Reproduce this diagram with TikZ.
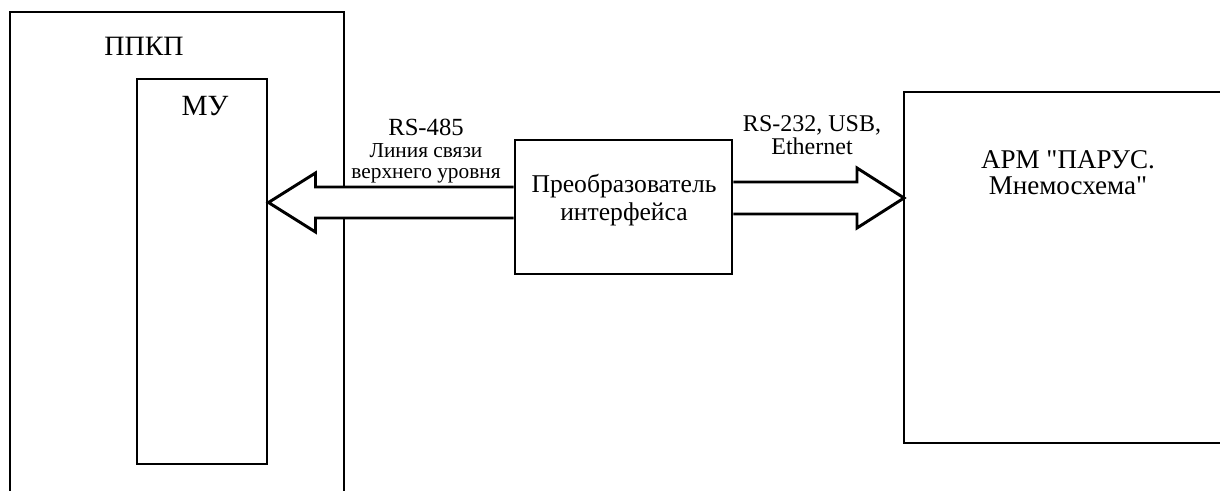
\documentclass[tikz,border=0pt]{standalone}
\usepackage{fontspec}
\setmainfont{Liberation Serif}
\usetikzlibrary{positioning,calc}
\tikzset{
  blok/.style={draw,line width=2.2pt,fill=white,inner sep=0pt},
  ramka/.style={line width=2.2pt},
  sirka/.style={line width=2.2pt,fill=white,line join=miter},
  popis/.style={inner sep=0pt,align=center},
}
\begin{document}
\begin{tikzpicture}[x=0.75pt,y=-0.75pt]
  \useasboundingbox (0,0) rectangle (1220,491);
  % ППКП (otevřený rám dole)
  \draw[ramka] (10,491) -- (10,12) -- (344,12) -- (344,491);
  \node[popis,font=\fontsize{21}{25}\selectfont] (ppkp) at (144,46.5) {ППКП};
  \node[blok,minimum width=97.5pt,minimum height=288.75pt] (mu) at (202,271.5) {};
  \node[popis,font=\fontsize{22}{26}\selectfont] (mutext) at (205,106) {МУ};
  % АРМ (otevřený rám vpravo)
  \draw[ramka] (1220,92) -- (904,92) -- (904,443) -- (1220,443);
  \coordinate (armvstup) at (904,198);
  \node[popis,font=\fontsize{20.3}{19.5}\selectfont] (armtext) at (1068,172.5) {АРМ \textquotedbl ПАРУС.\\Мнемосхема\textquotedbl};
  % sirke sipky
  \node[blok,minimum width=162.75pt,minimum height=100.5pt] (conv) at (623.5,207) {};
  \coordinate (l0) at ($(conv.west)+(0,-4.5)$);
  \coordinate (l1) at (mu.east |- l0);
  \draw[sirka] ($(l0)+(0,-15.5)$) -- ($(l1)+(47,-15.5)$) -- ($(l1)+(47,-29.5)$) -- (l1)
    -- ($(l1)+(47,29.5)$) -- ($(l1)+(47,15.5)$) -- ($(l0)+(0,15.5)$);
  \coordinate (r0) at (conv.east |- armvstup);
  \draw[sirka] ($(r0)+(0,-16)$) -- ($(armvstup)+(-47,-16)$) -- ($(armvstup)+(-47,-30)$) -- (armvstup)
    -- ($(armvstup)+(-47,30)$) -- ($(armvstup)+(-47,16)$) -- ($(r0)+(0,16)$);
  \node[popis,font=\fontsize{19.2}{21}\selectfont] (convtext) at (624,200.5) {Преобразователь\\интерфейса};
  % popisky linek
  \node[popis,anchor=base,font=\fontsize{18.5}{20}\selectfont] (rs485) at (426,135.5) {RS-485};
  \node[popis,anchor=base,font=\fontsize{16}{18}\selectfont] (linka) at (426,158) {Линия связи};
  \node[popis,anchor=base,font=\fontsize{16}{18}\selectfont] (uroven) at (426,179) {верхнего уровня};
  \node[popis,anchor=base,font=\fontsize{18}{20}\selectfont] (rs232) at (812,132) {RS-232, USB,};
  \node[popis,anchor=base,font=\fontsize{18}{20}\selectfont] (ethernet) at (812,155) {Ethernet};
\end{tikzpicture}
\end{document}
